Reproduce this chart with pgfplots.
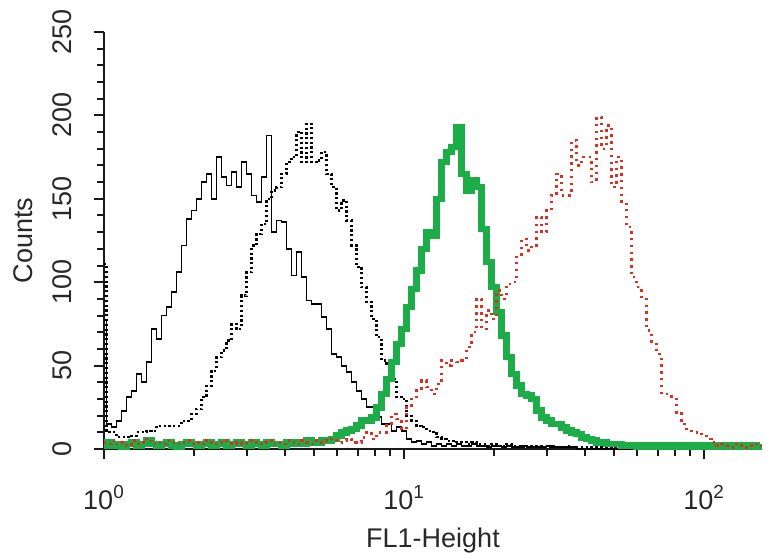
\documentclass[border=0pt]{standalone}
\usepackage{graphicx}
\usepackage{pgfplots}
\usepackage{pgfplotstable}
\pgfplotsset{compat=1.18}
\usepackage{fontspec}
\setmainfont{Liberation Sans}
\definecolor{fgreen}{RGB}{28,172,72}
\definecolor{fred}{RGB}{225,45,30}
\definecolor{txt}{RGB}{40,40,40}

\pgfplotstableread{
x bs bd g r
1.0000 77 111 2 4
1.0391 15 10 4 3
1.0798 13 10 2 5
1.1220 17 7 3 3
1.1659 23 7 1 4
1.2115 31 7 3 2
1.2589 35 8 4 5
1.3082 45 10 2 3
1.3594 40 10 3 4
1.4125 52 11 5 6
1.4678 72 11 3 3
1.5252 66 14 2 4
1.5849 80 14 3 3
1.6469 85 14 4 5
1.7113 94 14 2 4
1.7783 106 14 1 3
1.8478 122 17 3 4
1.9201 138 17 4 5
1.9953 143 21 3 3
2.0733 150 24 2 4
2.1544 160 31 3 3
2.2387 165 38 4 5
2.3263 150 47 2 4
2.4173 175 55 3 3
2.5119 163 59 4 4
2.6102 158 65 2 5
2.7123 166 75 3 3
2.8184 157 72 4 4
2.9286 172 92 3 3
3.0432 165 106 2 5
3.1623 152 122 4 4
3.2860 148 129 3 3
3.4145 163 135 2 4
3.5481 188 150 4 5
3.6869 130 155 3 3
3.8312 137 157 3 4
3.9811 136 165 2 3
4.1369 120 172 4 5
4.2987 104 175 3 4
4.4668 118 190 4 3
4.6416 103 172 3 5
4.8232 89 195 5 4
5.0119 87 172 4 3
5.2080 87 173 4 5
5.4117 79 178 5 4
5.6234 72 165 5 6
5.8434 57 157 6 5
6.0720 55 143 8 4
6.3096 50 149 10 5
6.5563 46 137 11 6
6.8129 40 122 12 4
7.0795 35 109 14 4
7.3564 30 97 17 7
7.6442 25 88 17 10
7.9433 25 78 19 6
8.2540 19 67 25 10
8.5770 15 53 33 10
8.9125 15 50 42 14
9.2612 11 42 52 21
9.6235 13 31 63 18
10.000 11 30 72 12
10.391 6 20 85 25
10.798 4 17 96 30
11.220 5 14 107 35
11.659 3 13 120 41
12.115 4 11 130 37
12.589 2 10 128 33
13.082 3 7 150 39
13.594 2 6 172 53
14.125 3 5 178 50
14.678 2 5 181 53
15.252 3 4 193 52
15.849 2 4 165 53
16.469 2 3 155 61
17.113 3 4 161 70
17.783 2 3 157 90
18.478 2 3 132 72
19.201 1 2 112 83
19.953 2 3 97 78
20.733 2 2 82 95
21.544 1 2 68 90
22.387 2 3 55 99
23.263 1 2 45 100
24.173 1 2 38 115
25.119 2 1 33 126
26.102 1 2 32 119
27.123 1 2 30 122
28.184 1 1 23 139
29.286 1 2 19 130
30.432 2 1 17 143
31.623 1 2 15 152
32.860 1 1 15 165
34.145 1 1 13 152
35.481 1 2 11 152
36.869 1 1 10 185
38.312 0 1 9 170
39.811 0 1 7 175
41.369 0 1 6 175
42.987 0 1 5 160
44.668 0 1 4 199
46.416 0 1 4 180
48.232 0 1 3 194
50.119 0 1 3 157
52.080 0 1 3 175
54.117 0 1 2 147
56.234 0 1 2 133
58.434 0 1 2 103
60.720 0 1 1 97
63.096 0 1 2 90
65.563 0 1 1 71
68.129 0 1 2 63
70.795 0 1 1 57
73.564 0 1 2 33
76.442 0 1 1 33
79.433 0 1 2 30
82.540 0 1 1 22
85.770 0 1 2 15
89.125 0 1 1 12
92.612 0 1 2 10
96.235 0 1 1 10
100.00 0 1 2 9
103.91 0 1 1 6
107.98 0 1 2 4
112.20 0 1 1 2
116.59 0 1 2 3
121.15 0 1 1 2
125.89 0 1 2 1
130.82 0 1 1 3
135.94 0 1 2 2
141.25 0 1 1 1
146.78 0 1 2 3
152.52 0 1 1 2
158.49 0 1 1 1
}\datatable

\begin{document}
\begin{tikzpicture}
\begin{axis}[
  at={(0,0)}, anchor=south west,
  scale only axis, width=329pt, height=208.5pt,
  xmode=log, xmin=1, xmax=156, ymin=0, ymax=250,
  axis x line=bottom, axis y line=left,
  axis line style={-, line width=1.2pt, black!90},
  tick align=outside,
  xtick={1,10,100},
  xticklabels={10\textsuperscript{0},10\textsuperscript{1},10\textsuperscript{2}},
  minor xtick={2,3,4,5,6,7,8,9,20,30,40,50,60,70,80,90},
  ytick={0,50,100,150,200,250},
  yticklabels={\rotatebox{90}{0},\rotatebox{90}{50},\rotatebox{90}{100},\rotatebox{90}{150},\rotatebox{90}{200},\rotatebox{90}{250}},
  minor ytick={10,20,30,40,60,70,80,90,110,120,130,140,160,170,180,190,210,220,230,240},
  major tick length=5pt, minor tick length=3.5pt,
  every tick/.style={black!90, line width=1pt},
  tick label style={font=\fontsize{13.5}{16}\selectfont, text=txt},
  xticklabel style={anchor=base, inner sep=0pt, yshift=-25pt},
  yticklabel style={anchor=east, inner sep=0pt, xshift=-11pt},
  xlabel={FL1-Height}, ylabel={Counts},
  label style={font=\fontsize{13.5}{16}\selectfont, text=txt},
  xlabel style={at={(axis description cs:0.5,-0.2374)}, anchor=base, inner sep=0pt},
  ylabel style={at={(axis description cs:-0.108,0.5)}, anchor=south, inner sep=0pt},
  no markers,
]
\addplot[const plot mark mid, black, line width=0.9pt] table[x=x,y=bs]{\datatable};
\addplot[const plot mark mid, black, line width=1.1pt, dash pattern=on 1.1pt off 1.3pt] table[x=x,y=bd]{\datatable};
\addplot[const plot mark mid, fgreen, line width=3.2pt] table[x=x,y=g]{\datatable};
\addplot[const plot mark mid, fred, line width=1.2pt, dash pattern=on 1.2pt off 2.2pt] table[x=x,y=r]{\datatable};
\end{axis}
\pgfresetboundingbox
\path[use as bounding box] (-52pt,-51.5pt) rectangle (333.5pt,224.5pt);
\end{tikzpicture}
\end{document}
